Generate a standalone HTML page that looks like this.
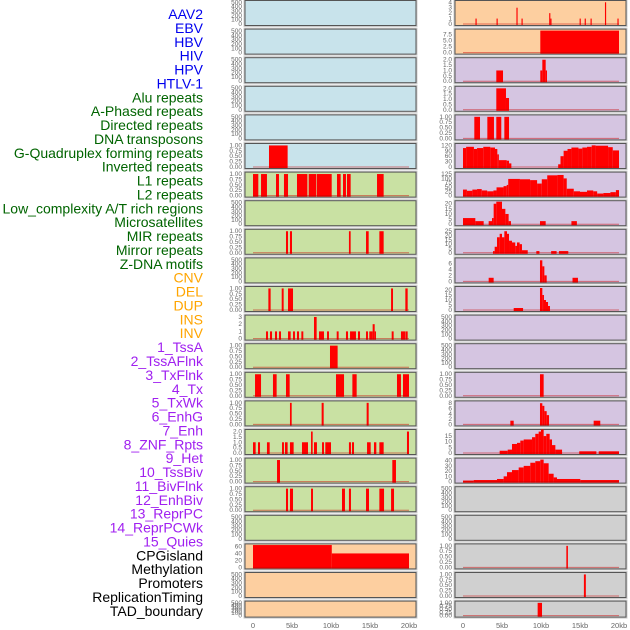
<!DOCTYPE html>
<html><head><meta charset="utf-8">
<style>
html,body{margin:0;padding:0;background:#fff;}
svg{display:block;font-family:"Liberation Sans",sans-serif;}
</style></head>
<body>
<svg id="chart" width="630" height="630" viewBox="0 0 630 630"></svg>
<script>
const trackNames=["AAV2","EBV","HBV","HIV","HPV","HTLV-1","Alu repeats","A-Phased repeats","Directed repeats","DNA transposons","G-Quadruplex forming repeats","Inverted repeats","L1 repeats","L2 repeats","Low_complexity A/T rich regions","Microsatellites","MIR repeats","Mirror repeats","Z-DNA motifs","CNV","DEL","DUP","INS","INV","1_TssA","2_TssAFlnk","3_TxFlnk","4_Tx","5_TxWk","6_EnhG","7_Enh","8_ZNF_Rpts","9_Het","10_TssBiv","11_BivFlnk","12_EnhBiv","13_ReprPC","14_ReprPCWk","15_Quies","CPGisland","Methylation","Promoters","ReplicationTiming","TAD_boundary"];
const labelColors=["#0000ee","#006400","#ffa500","#a020f0","#000000"];
const labelGroup=[0,0,0,0,0,0,1,1,1,1,1,1,1,1,1,1,1,1,1,2,2,2,2,2,3,3,3,3,3,3,3,3,3,3,3,3,3,3,3,4,4,4,4,4];
const panelFills=["#c8e3eb","#c9e1a3","#fdcfa0","#d5c5e1","#d0d0d0"];
const panelGroup=[0,0,0,0,0,0,1,1,1,1,1,1,1,1,1,1,1,1,1,2,2,2,2,2,3,3,3,3,3,3,3,3,3,3,3,3,3,3,3,4,4,4,4,4];
const E=["0","100","200","300","400","500"];
const B=["0.00","0.25","0.50","0.75","1.00"];
const T2=["0.0","0.5","1.0","1.5","2.0"];
const tickLabels=[E,E,E,E,E,B,B,E,B,E,B,["0","1","2","3"],B,B,B,T2,B,B,E,["0","20","40","60"],E,E,
 ["0","1","2","3","4"],["0.0","2.5","5.0","7.5"],T2,T2,B,["0","30","60","90","120"],["0","25","50","75","100","125"],["0","5","10","15","20"],["0","5","10","15","20","25"],["0","2","4","6"],["0","5","10","15","20"],E,E,B,["0","2","4","6","8"],["0","5","10","15"],["0","10","20","30","40"],E,E,B,B,B];
const yMax=[510,510,510,510,510,1.02,1.02,510,1.02,510,1.02,3.05,1.02,1.02,1.02,2.05,1.02,1.02,510,63,510,510,
 4.05,9.2,2.05,2.05,1.02,122,128,21.5,25.5,7.3,22,510,510,1.02,8.3,19.5,42,510,510,1.02,1.02,1.02];
const trackSegments=[
 [],[],[],[],[],
 [[2.05,4.44,1]],
 [[0,0.68,1],[1.03,1.79,1],[2.95,3.33,1],[3.97,4.49,1],[5.64,6.97,1],[7.14,8.08,1],[8.16,10.09,1],[10.77,11.24,1],[11.54,11.92,1],[12.05,12.52,1],[15.9,16.75,1]],
 [],
 [[4.23,4.49,1],[4.74,5.0,1],[12.3,12.52,1],[14.49,14.83,1],[16.2,16.75,1]],
 [],
 [[1.97,2.26,1],[3.68,3.93,1],[4.49,5.13,1],[17.7,17.95,1],[19.53,19.83,1]],
 [[1.67,1.92,1],[2.18,2.44,1],[2.82,3.08,1],[3.33,3.59,1],[4.49,4.83,1],[5.13,5.38,1],[5.64,5.9,1],[6.2,6.45,1],[7.82,8.16,3],[8.46,9.1,1],[9.49,9.74,1],[10.73,10.98,1],[11.92,12.18,1],[12.44,13.2,1],[13.46,13.72,1],[14.49,14.74,1],[14.91,15.34,1],[15.34,15.6,2],[15.6,15.77,1],[17.78,18.03,1],[18.97,19.53,1],[19.57,19.83,1]],
 [[9.87,10.85,1]],
 [[0.26,1.03,1],[2.56,3.03,1],[4.23,4.7,1],[10.64,11.67,1],[12.74,13.29,1],[18.46,18.97,1],[19.23,20,1]],
 [[4.74,4.96,1],[8.8,9.06,1],[14.57,14.83,1]],
 [[0,0.34,1],[0.64,0.9,1],[1.79,2.14,1],[3.72,3.97,1],[4.1,4.44,1],[4.74,5.21,1],[6.28,7.05,1],[7.44,7.65,2],[7.82,8.2,1],[8.85,9.1,1],[9.27,10.0,1],[12.3,12.56,1],[12.69,12.95,1],[14.62,15.09,1],[15.51,15.81,1],[16.2,16.75,1],[19.74,20,2]],
 [[3.08,3.46,1],[17.86,18.33,1]],
 [[4.23,4.49,1],[4.74,5.13,1],[7.44,7.69,1],[11.41,11.79,1],[12.3,12.56,1],[14.49,14.87,1],[16.2,16.8,1],[17.7,18.08,1]],
 [],
 [[0,10.1,64],[10.1,20,40]],
 [],[],
 [[1.6,1.75,1],[4.3,4.45,1],[6.85,7.0,3],[7.5,7.65,1],[11.05,11.2,2],[11.2,11.35,1],[14.95,15.1,1],[15.6,15.75,1],[16.35,16.5,1],[18.2,18.35,4],[19.8,19.95,1]],
 [[9.91,20,9.2]],
 [[4.27,5.13,1],[9.91,10.17,1],[10.17,10.6,2],[10.6,10.77,1]],
 [[4.27,5.51,2],[5.51,5.9,1.1]],
 [[1.45,2.18,1],[3.12,3.97,1],[4.27,4.91,1],[5.3,5.9,1]],
 [[0,0.4,105],[0.4,1.4,112],[1.4,1.8,100],[1.8,2.6,105],[2.6,3.5,112],[3.5,4.1,108],[4.1,4.4,100],[4.4,4.6,70],[4.6,5.6,38],[5.6,5.9,35],[5.9,6.2,20],[12.2,12.5,15],[12.5,12.9,60],[12.9,13.4,90],[13.4,13.9,100],[13.9,14.8,108],[14.8,15.3,102],[15.3,15.9,108],[15.9,16.5,112],[16.5,17.0,120],[17.0,18.6,118],[18.6,19.2,110],[19.2,20,92]],
 [[0,0.5,35],[0.5,1.2,28],[1.2,1.8,35],[1.8,2.4,38],[2.4,3.1,30],[3.1,3.9,25],[3.9,4.3,30],[4.3,5.2,48],[5.2,5.6,55],[5.6,5.8,62],[5.8,7.3,97],[7.3,8.6,95],[8.6,9.5,90],[9.5,10.1,70],[10.1,10.8,95],[10.8,12.1,118],[12.1,12.9,120],[12.9,13.3,100],[13.3,14.2,40],[14.2,15.0,25],[15.0,15.9,22],[15.9,16.7,30],[16.7,17.2,25],[17.2,18.0,12],[18.0,18.9,15],[18.9,19.6,20],[19.6,20,32]],
 [[0,1.58,6],[1.58,2.65,3],[3.29,3.72,3],[3.72,3.93,6],[3.93,4.27,20],[4.27,5.0,22],[5.0,5.43,15],[5.43,5.85,10],[5.85,6.15,3],[9.87,10.6,3],[13.9,14.6,3]],
 [[3.85,4.06,2],[4.06,4.36,7],[4.36,4.7,18],[4.7,5.0,22],[5.0,5.3,18],[5.3,5.64,25],[5.64,5.9,22],[5.9,6.28,14],[6.28,6.7,12],[6.7,6.92,8],[6.92,7.26,12],[7.26,7.56,10],[7.56,8.3,3],[9.4,9.8,2],[11.3,12.0,2],[12.3,13.5,2]],
 [[3.29,3.93,1.2],[9.87,10.17,7],[10.17,10.43,5],[10.43,10.73,2],[14.04,14.74,1.2]],
 [[6.5,7.7,2],[9.87,10.17,22],[10.17,10.38,15],[10.38,10.64,10],[10.64,10.9,8],[10.9,11.15,4]],
 [],[],
 [[9.87,10.34,1]],
 [[6.07,6.5,1.4],[9.87,10.17,8],[10.17,10.43,7],[10.43,10.73,5],[10.73,11.03,3.5],[16.75,17.6,1.4]],
 [[4.7,5.73,2],[5.73,6.28,3],[6.28,6.92,8],[6.92,7.35,9],[7.35,7.78,11],[7.78,8.85,12],[8.85,9.27,14],[9.27,9.7,17],[9.7,10.0,19],[10.0,10.34,21],[10.34,10.68,15],[10.68,11.11,17],[11.11,11.41,12],[11.41,11.84,7],[11.84,12.7,3],[14.9,17.1,1.5],[17.4,20,1.5]],
 [[0,1.37,2],[1.37,4.36,3],[4.36,5.21,5],[5.21,5.64,10],[5.64,6.28,18],[6.28,7.14,22],[7.14,7.78,27],[7.78,8.63,30],[8.63,9.27,36],[9.27,9.91,39],[9.91,10.34,42],[10.34,10.98,35],[10.98,11.62,15],[11.62,12.05,8],[12.05,15.04,5],[15.04,20,3]],
 [],[],
 [[13.25,13.45,1]],
 [[15.5,15.75,1]],
 [[9.57,10.13,1]]
];
const xTickKb=[0,5,10,15,20];
const xTickLabels=["0","5kb","10kb","15kb","20kb"];

const NS="http://www.w3.org/2000/svg";
const svg=document.getElementById("chart");
function mk(tag,attrs,parent){const e=document.createElementNS(NS,tag);for(const k in attrs)e.setAttribute(k,attrs[k]);(parent||svg).appendChild(e);return e;}
const colX=[245,455], panelW=171, pitch=28.6;
function xScale(col,kb){return colX[col]+8+kb*7.8;}
function rowTop(r){return 0.5+r*pitch;}
function rowH(r){return r===21?16:25;}

// labels
trackNames.forEach((n,i)=>{
  const t=mk("text",{x:203,y:19+i*13.88,"text-anchor":"end","font-size":"14",fill:labelColors[labelGroup[i]]});
  t.textContent=n;
  
  
});

trackNames.forEach((n,i)=>{
  const col=i<22?0:1, r=i%22;
  const top=rowTop(r), h=rowH(r), x0=colX[col];
  const g=mk("g",{});
  
  
  mk("rect",{x:x0-1,y:top-1,width:panelW+2,height:h+2,fill:"none",stroke:"#ccc","stroke-width":1},g);
  mk("rect",{x:x0,y:top,width:panelW,height:h,fill:panelFills[panelGroup[i]],stroke:"#555","stroke-width":1},g);
  const yb=top+h-1.5, yt=top+1.5;
  const ys=v=>yb-(v/yMax[i])*(yb-yt+ (yMax[i]>500?0:0));
  // ticks
  const labs=tickLabels[i], topTick=parseFloat(labs[labs.length-1]);
  labs.forEach(l=>{
    const v=parseFloat(l);
    const yy=yb-(v/topTick)*(yb-yt)*(topTick/yMax[i]);
    const t=mk("text",{x:x0-3,y:yy+2,"text-anchor":"end","font-size":"6.5",fill:"#666"},g);
    t.textContent=l;
    
    
  });
  const segs=trackSegments[i];
  if(segs.length){
    const cp="clip"+i;
    const cl=mk("clipPath",{id:cp},g);
    mk("rect",{x:x0,y:top,width:panelW,height:h},cl);
    segs.forEach(s=>{
      const xa=xScale(col,s[0]), xb=xScale(col,s[1]);
      const yv=Math.max(top,ys(s[2]));
      const b=mk("rect",{x:xa,y:yv,width:Math.max(1,xb-xa),height:yb-yv+1,fill:"#ff0000","clip-path":"url(#"+cp+")"},g);
      
      
    });
    const bl=mk("line",{x1:xScale(col,0),x2:xScale(col,20),y1:yb,y2:yb,stroke:"rgba(200,0,0,0.5)","stroke-width":1},g);
    
    
  }
});

// x axes
[0,1].forEach(col=>{
  xTickKb.forEach((k,j)=>{
    const t=mk("text",{x:xScale(col,k),y:628,"text-anchor":"middle","font-size":"7.5",fill:"#666"});
    t.textContent=xTickLabels[j];
    
    
  });
});
</script>
</body></html>
